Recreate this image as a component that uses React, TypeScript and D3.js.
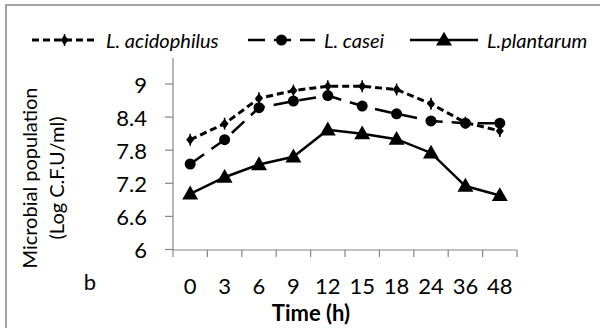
import React, { useEffect, useRef } from 'react';
import * as d3 from 'd3';

const TIMES = ["0", "3", "6", "9", "12", "15", "18", "24", "36", "48"];
const ACIDOPHILUS = [7.99, 8.28, 8.74, 8.88, 8.96, 8.96, 8.90, 8.64, 8.30, 8.15];
const CASEI = [7.55, 7.99, 8.57, 8.69, 8.79, 8.60, 8.46, 8.33, 8.29, 8.29];
const PLANTARUM = [7.01, 7.31, 7.54, 7.68, 8.17, 8.10, 8.00, 7.75, 7.15, 6.98];
const Y_TICKS = [6, 6.6, 7.2, 7.8, 8.4, 9];

const SERIES = [
    { name: "L. acidophilus", values: ACIDOPHILUS, dash: "7,4", width: 3, marker: "diamond" },
    { name: "L. casei", values: CASEI, dash: "17,9", width: 2.5, marker: "circle" },
    { name: "L.plantarum", values: PLANTARUM, dash: null, width: 2.5, marker: "triangle" }
];

const FONT = "Lato, 'Open Sans', sans-serif";
const AXIS_COLOR = "#868686";

function App() {
    const svgRef = useRef(null);
    const width = 600;
    const height = 328;
    const plot = { left: 173, right: 517, top: 58, bottom: 250 };

    useEffect(() => {
        const svg = d3.select(svgRef.current);
        svg.selectAll("*").remove();

        const xScale = d3.scaleBand()
            .domain(TIMES)
            .range([plot.left, plot.right]);

        const yScale = d3.scaleLinear()
            .domain([6, 9])
            .range([plot.bottom - 0.5, 84]);

        // frame
        svg.append("rect")
            .attr("x", 6)
            .attr("y", 5)
            .attr("width", 620)
            .attr("height", 340)
            .attr("fill", "white")
            .attr("stroke", AXIS_COLOR)
            .attr("stroke-width", 1.5);

        // y axis
        svg.append("line")
            .attr("x1", plot.left).attr("x2", plot.left)
            .attr("y1", plot.top).attr("y2", plot.bottom)
            .attr("stroke", AXIS_COLOR).attr("stroke-width", 1.2);

        const yt = svg.append("g");
        Y_TICKS.forEach(t => {
            yt.append("line")
                .attr("x1", plot.left - 8).attr("x2", plot.left)
                .attr("y1", yScale(t)).attr("y2", yScale(t))
                .attr("stroke", AXIS_COLOR).attr("stroke-width", 1.2);
            yt.append("text")
                .attr("x", 147)
                .attr("y", yScale(t))
                .attr("dominant-baseline", "central")
                .attr("text-anchor", "end")
                .style("font-family", FONT)
                .style("font-size", "22px")
                .text(String(t));
        });

        // x axis
        svg.append("line")
            .attr("x1", plot.left).attr("x2", plot.right)
            .attr("y1", plot.bottom).attr("y2", plot.bottom)
            .attr("stroke", AXIS_COLOR).attr("stroke-width", 1.2);

        const boundaries = TIMES.map(t => xScale(t)).concat([plot.right]);
        boundaries.forEach(bx => {
            svg.append("line")
                .attr("x1", bx).attr("x2", bx)
                .attr("y1", plot.bottom).attr("y2", plot.bottom + 7)
                .attr("stroke", AXIS_COLOR).attr("stroke-width", 1.2);
        });

        TIMES.forEach(t => {
            svg.append("text")
                .attr("x", xScale(t) + xScale.bandwidth() / 2)
                .attr("y", 285)
                .attr("dominant-baseline", "central")
                .attr("text-anchor", "middle")
                .style("font-family", FONT)
                .style("font-size", "22px")
                .text(t);
        });

        const cx = t => xScale(t) + xScale.bandwidth() / 2;

        const drawMarker = (g, type, x, y) => {
            if (type === "diamond") {
                g.append("path")
                    .attr("d", `M${x},${y - 5}L${x + 4},${y}L${x},${y + 5}L${x - 4},${y}Z`)
                    .attr("fill", "black");
                g.append("line")
                    .attr("x1", x).attr("x2", x)
                    .attr("y1", y - 6).attr("y2", y + 6)
                    .attr("stroke", "black").attr("stroke-width", 1.5);
            } else if (type === "circle") {
                g.append("circle")
                    .attr("cx", x).attr("cy", y).attr("r", 5.5)
                    .attr("fill", "black");
            } else {
                g.append("path")
                    .attr("d", d3.symbol().type(d3.symbolTriangle).size(110)())
                    .attr("transform", `translate(${x},${y + 1})`)
                    .attr("fill", "black");
            }
        };

        const line = d3.line()
            .x((d, i) => cx(TIMES[i]))
            .y(d => yScale(d));

        SERIES.forEach(s => {
            svg.append("path")
                .datum(s.values)
                .attr("d", line)
                .attr("fill", "none")
                .attr("stroke", "black")
                .attr("stroke-width", s.width)
                .attr("stroke-dasharray", s.dash);
            const g = svg.append("g");
            s.values.forEach((v, i) => drawMarker(g, s.marker, cx(TIMES[i]), yScale(v)));
        });

        // legend
        const legendItems = [
            { x1: 32, x2: 97, tx: 106 },
            { x1: 248, x2: 315, tx: 324 },
            { x1: 410, x2: 478, tx: 487 }
        ];
        SERIES.forEach((s, i) => {
            const li = legendItems[i];
            const ly = 40;
            svg.append("line")
                .attr("x1", li.x1).attr("x2", li.x2)
                .attr("y1", ly).attr("y2", ly)
                .attr("stroke", "black")
                .attr("stroke-width", s.width)
                .attr("stroke-dasharray", s.dash);
            drawMarker(svg, s.marker, (li.x1 + li.x2) / 2, ly);
            svg.append("text")
                .attr("x", li.tx)
                .attr("y", ly)
                .attr("dominant-baseline", "central")
                .style("font-family", FONT)
                .style("font-size", "20px")
                .style("font-style", "italic")
                .text(s.name);
        });

        // axis titles
        svg.append("text")
            .attr("x", 311)
            .attr("y", 312)
            .attr("dominant-baseline", "central")
            .attr("text-anchor", "middle")
            .style("font-family", FONT)
            .style("font-size", "22px")
            .style("font-weight", "bold")
            .text("Time (h)");

        svg.append("text")
            .attr("transform", "translate(29,178) rotate(-90)")
            .attr("dominant-baseline", "central")
            .attr("text-anchor", "middle")
            .style("font-family", FONT)
            .style("font-size", "20px")
            .text("Microbial population");

        svg.append("text")
            .attr("transform", "translate(56,178) rotate(-90)")
            .attr("dominant-baseline", "central")
            .attr("text-anchor", "middle")
            .style("font-family", FONT)
            .style("font-size", "20px")
            .text("(Log C.F.U/ml)");

        svg.append("text")
            .attr("x", 90)
            .attr("y", 281)
            .attr("dominant-baseline", "central")
            .attr("text-anchor", "middle")
            .style("font-family", FONT)
            .style("font-size", "22px")
            .text("b");
    }, []);

    return (
        <svg
            ref={svgRef}
            width={width}
            height={height}
            style={{ position: "absolute", left: 0, top: 0, background: "white" }}
        />
    );
}

export default App;
